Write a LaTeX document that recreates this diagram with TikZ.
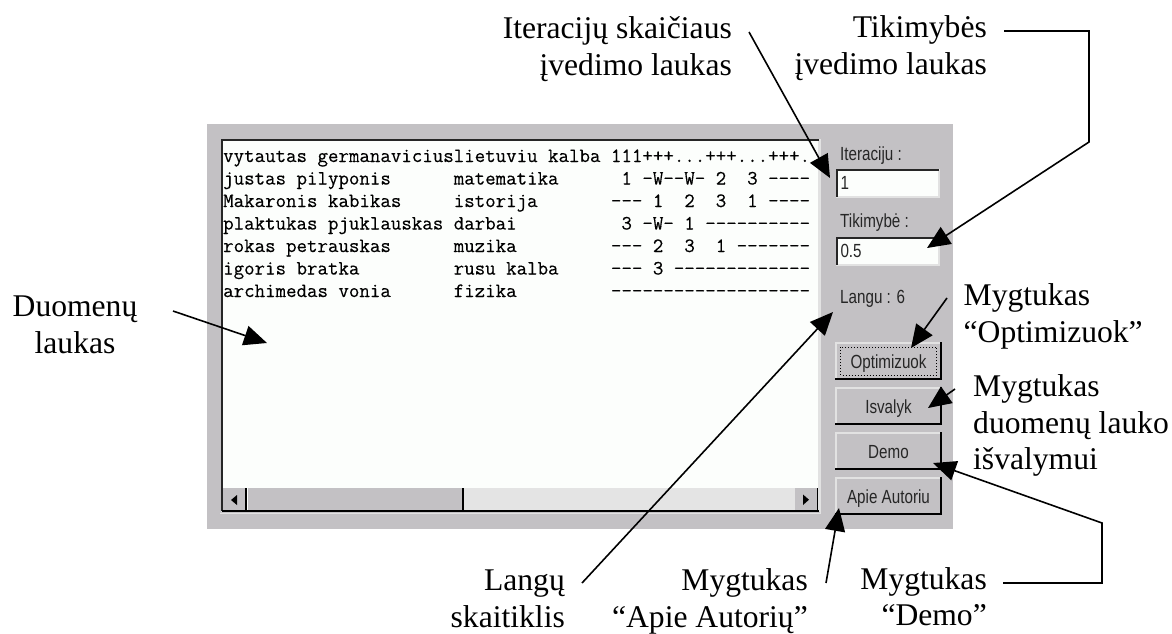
\documentclass[tikz,border=0pt]{standalone}
\usepackage{fontspec}
\usetikzlibrary{arrows.meta}
\setmainfont{Liberation Serif}
\newfontfamily\uifont[FakeStretch=0.8]{Liberation Sans}
\newfontfamily\scrfont[FakeBold=0.35]{Latin Modern Mono}
\definecolor{panelgray}{HTML}{C3C1C4}
\definecolor{paper}{HTML}{FCFEFC}
\definecolor{tracklite}{HTML}{E4E4E4}
\definecolor{bevellite}{HTML}{E2E2E2}
\tikzset{
  callout/.style={font=\fontsize{31.6}{36.5}\selectfont,inner sep=0pt,text=black},
  pointer/.style={draw=black,line width=1.6pt,line join=miter,-{Triangle[length=23pt,width=20pt]}},
  uilabel/.style={font=\uifont\fontsize{19}{19}\selectfont,inner sep=0pt,anchor=base west,text=black!85},
  scrrow/.style={font=\scrfont\fontsize{20.35}{20.35}\selectfont,inner sep=0pt,anchor=base west,text=black},
  btn/.style={fill=panelgray,minimum width=105pt,minimum height=36pt,inner sep=0pt,
    font=\uifont\fontsize{19}{19}\selectfont,text height=16pt,text depth=2pt,text=black!85},
  entry/.style={fill=paper,minimum width=102pt,minimum height=27pt,inner sep=0pt,text width=95pt,align=left,
    font=\uifont\fontsize{19}{19}\selectfont,text height=14pt,text depth=1.5pt,text=black!85},
  litebevel/.style={draw=bevellite,line width=1.5pt,line cap=rect},
  darkbevel/.style={draw=black,line width=1.6pt,line cap=rect},
  sbbtn/.style={fill=panelgray,inner sep=0pt}
}
\newcommand{\raisedbevel}[1]{%
  \draw[litebevel] (#1.south west) -- (#1.north west) -- (#1.north east);
  \draw[darkbevel] (#1.south west) -- (#1.south east) -- (#1.north east);
}
\newcommand{\sunkenbevel}[1]{%
  \draw[litebevel] (#1.south west) -- (#1.south east) -- (#1.north east);
  \draw[draw=black!85,line width=1.8pt] (#1.south west) -- (#1.north west) -- (#1.north east);
}
\begin{document}
\begin{tikzpicture}[x=1pt,y=-1pt]
\useasboundingbox (0,0) rectangle (1172,633);
\fill[white] (0,0) rectangle (1172,633);

% window panel
\node[fill=panelgray,minimum width=746pt,minimum height=405pt,inner sep=0pt] (panel) at (580,326.5) {};

% data box
\node[fill=paper,minimum width=597pt,minimum height=371pt,inner sep=0pt] (data) at (520.5,325.5) {};
\node[scrrow] (r1) at (223,162) {vytautas~germanaviciuslietuviu~kalba~111+++...+++...+++.};
\node[scrrow] (r2) at (223,184.5) {justas~pilyponis~~~~~~matematika~~~~~~1~-W--W-~2~~3~----};
\node[scrrow] (r3) at (223,207) {Makaronis~kabikas~~~~~istorija~~~~~~~---~1~~2~~3~~1~----};
\node[scrrow] (r4) at (223,229.5) {plaktukas~pjuklauskas~darbai~~~~~~~~~~3~-W-~1~----------};
\node[scrrow] (r5) at (223,252) {rokas~petrauskas~~~~~~muzika~~~~~~~~~---~2~~3~~1~-------};
\node[scrrow] (r6) at (223,274.5) {igoris~bratka~~~~~~~~~rusu~kalba~~~~~---~3~-------------};
\node[scrrow] (r7) at (223,297) {archimedas~vonia~~~~~~fizika~~~~~~~~~-------------------};

% scrollbar
\node[fill=tracklite,minimum width=332pt,minimum height=23pt,inner sep=0pt] (track) at (629,499.5) {};
\node[sbbtn,minimum width=23pt,minimum height=23pt] (sbleft) at (234.5,499.5) {};
\node[sbbtn,minimum width=215pt,minimum height=23pt] (sbthumb) at (355.5,499.5) {};
\node[sbbtn,minimum width=23pt,minimum height=23pt] (sbright) at (806.5,499.5) {};
\fill[black] (237,495) -- (237,505) -- (231,500) -- cycle;
\fill[black] (803,494.5) -- (803,505) -- (809,499.7) -- cycle;
\foreach \n in {sbleft,sbthumb,sbright}{
  \draw[draw=black,line width=1.6pt] (\n.south west) -- (\n.south east) -- (\n.north east);
}
% data box bevel
\sunkenbevel{data}
\draw[draw=black,line width=1.8pt] (data.south west) -- (data.south east);
\draw[litebevel] (220.5,513.5) -- (820.5,513.5) -- (820.5,140);

% right hand controls
\node[uilabel] (lblit) at (840,160) {Iteraciju :};
\node[entry] (fldit) at (888,183.5) {1};
\sunkenbevel{fldit}
\node[uilabel] (lblti) at (840,227) {Tikimybė :};
\node[entry] (fldti) at (888,251.5) {0.5};
\sunkenbevel{fldti}
\node[uilabel] (lblla) at (840,303) {Langu : 6};

\node[btn] (bopt) at (888.5,361) {Optimizuok};
\raisedbevel{bopt}
\draw[black,line width=1pt,dotted] (840.5,347) rectangle (936.5,375);
\node[btn] (bisv) at (888.5,406) {Isvalyk};
\raisedbevel{bisv}
\node[btn] (bdem) at (888.5,451) {Demo};
\raisedbevel{bdem}
\node[btn] (bapi) at (888.5,496) {Apie Autoriu};
\raisedbevel{bapi}

% callout labels
\node[callout,align=right,anchor=base east] (tIter) at (732,75) {Iteracijų skaičiaus\\įvedimo laukas};
\node[callout,align=right,anchor=base east] (tTik) at (987,74) {Tikimybės\\įvedimo laukas};
\node[callout,align=center,anchor=base] (tDuo) at (75,353) {Duomenų\\laukas};
\node[callout,align=left,anchor=base west] (tOpt) at (963.5,342) {Mygtukas\\“Optimizuok”};
\node[callout,align=left,anchor=base west] (tIsv) at (973,469.5) {Mygtukas\\duomenų lauko\\išvalymui};
\node[callout,align=right,anchor=base east] (tLan) at (565,627) {Langų\\skaitiklis};
\node[callout,align=right,anchor=base east] (tApi) at (808,627) {Mygtukas\\“Apie Autorių”};
\node[callout,align=right,anchor=base east] (tDem) at (987,625.5) {Mygtukas\\“Demo”};

% connector ends
\coordinate (a1) at (749,32);   \coordinate (a1t) at (830,178);
\coordinate (a2) at (1004,31);  \coordinate (a2b) at (1089,31);  \coordinate (a2c) at (1089,142); \coordinate (a2t) at (927,248);
\coordinate (a3) at (173,311);  \coordinate (a3t) at (267,343);
\coordinate (a4) at (947,298);  \coordinate (a4t) at (911,348);
\coordinate (a5) at (955,389);  \coordinate (a5t) at (928,408);
\coordinate (a6) at (1003,583); \coordinate (a6b) at (1102,583); \coordinate (a6c) at (1102,523); \coordinate (a6t) at (933,463);
\coordinate (a7) at (826,583);  \coordinate (a7t) at (839,508);
\coordinate (a8) at (582,583);  \coordinate (a8t) at (833,312);

\draw[pointer] (a1) -- (a1t);
\draw[pointer] (a2) -- (a2b) -- (a2c) -- (a2t);
\draw[pointer] (a3) -- (a3t);
\draw[pointer] (a4) -- (a4t);
\draw[pointer] (a5) -- (a5t);
\draw[pointer] (a6) -- (a6b) -- (a6c) -- (a6t);
\draw[pointer] (a7) -- (a7t);
\draw[pointer] (a8) -- (a8t);
\end{tikzpicture}
\end{document}
